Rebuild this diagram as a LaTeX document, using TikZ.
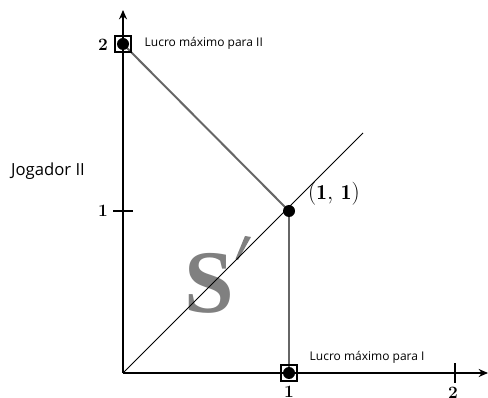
\documentclass[tikz,border=0pt]{standalone}
\usepackage{fontspec}
\setsansfont{Open Sans}
\newfontfamily\bigserif{Liberation Serif}
\usetikzlibrary{arrows.meta}
\begin{document}
\begin{tikzpicture}[x=0.75pt,y=-0.75pt,
  axis/.style={line width=1.3pt,black,-{Stealth[length=7pt,width=6pt]}},
  seg/.style={line width=1.5pt,gray!80!black},
  diag/.style={line width=0.7pt,black},
  dotpt/.style={circle,fill=black,inner sep=0pt,minimum size=9pt},
  boxpt/.style={draw,line width=0.8pt,minimum size=12pt,inner sep=0pt},
  numlbl/.style={font=\bfseries\fontsize{13}{13}\selectfont},
  smalltxt/.style={font=\sffamily\fontsize{9}{11}\selectfont,anchor=west},
  tick/.style={line width=1pt}]
\useasboundingbox (0,0) rectangle (488,398);
\coordinate (O) at (123,373);
\coordinate (xend) at (488,373);
\coordinate (yend) at (123,10);
\coordinate (diagend) at (363,133);
\coordinate (A) at (123,44);
\coordinate (B) at (289,211);
\coordinate (C) at (289,373);
% big S'
\node[text=gray,font=\bigserif\bfseries\fontsize{67}{67}\selectfont,inner sep=0pt,anchor=base] (S) at (209,313) {S};
\fill[gray] (245,236) -- (251,237) -- (238,260) -- (235.5,259) -- cycle;
\draw[axis] (O) -- (xend);
\draw[axis] (O) -- (yend);
\draw[diag] (O) -- (diagend);
\draw[seg] (A) -- (B);
\draw[seg] (B) -- (C);
% ticks
\coordinate (ty1a) at (113,211); \coordinate (ty1b) at (133,211);
\draw[tick] (ty1a) -- (ty1b);
\coordinate (tx2a) at (455,363); \coordinate (tx2b) at (455,383);
\draw[tick] (tx2a) -- (tx2b);
% points
\node[boxpt] (bA) at (A) {};
\node[dotpt] (dA) at (A) {};
\node[boxpt] (bC) at (C) {};
\node[dotpt] (dC) at (C) {};
\node[dotpt] (dB) at (B) {};
% labels
\node[numlbl] (y2) at (103,45) {2};
\node[numlbl] (y1) at (103,211) {1};
\node[numlbl] (x1) at (289,392) {1};
\node[numlbl] (x2) at (453,393) {2};
\node[font=\fontsize{16}{16}\selectfont] (p11) at (334,194) {$(\mathbf{1},\,\mathbf{1})$};
\node[smalltxt] (l2) at (140,43) {Lucro máximo para II};
\node[smalltxt] (l1) at (305,357) {Lucro máximo para I};
\node[font=\sffamily\fontsize{12.5}{14}\selectfont] (jog) at (48,171) {Jogador II};
\end{tikzpicture}
\end{document}
